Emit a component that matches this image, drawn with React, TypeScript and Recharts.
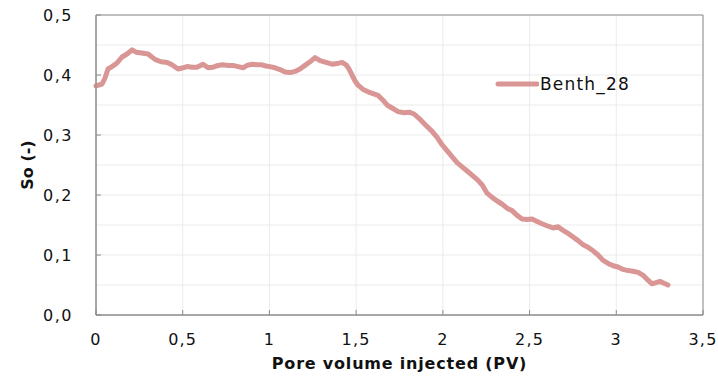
import React from 'react';
import { LineChart, Line, XAxis, YAxis, CartesianGrid, ReferenceArea, Label } from 'recharts';

const seriesName = 'Benth_28';
const pv = [0, 0.035, 0.052, 0.069, 0.092, 0.121, 0.15, 0.179, 0.208, 0.231, 0.254, 0.3, 0.34, 0.375, 0.41, 0.438, 0.473, 0.502, 0.525, 0.554, 0.582, 0.617, 0.646, 0.675, 0.704, 0.732, 0.761, 0.79, 0.819, 0.848, 0.871, 0.9, 0.928, 0.957, 0.98, 1.003, 1.032, 1.061, 1.09, 1.119, 1.148, 1.176, 1.205, 1.234, 1.263, 1.292, 1.326, 1.361, 1.39, 1.419, 1.442, 1.459, 1.476, 1.494, 1.511, 1.54, 1.569, 1.597, 1.626, 1.655, 1.678, 1.707, 1.742, 1.776, 1.805, 1.834, 1.869, 1.903, 1.938, 1.967, 1.995, 2.024, 2.053, 2.082, 2.111, 2.14, 2.168, 2.197, 2.226, 2.255, 2.284, 2.313, 2.341, 2.37, 2.399, 2.428, 2.457, 2.486, 2.514, 2.543, 2.572, 2.607, 2.636, 2.664, 2.693, 2.722, 2.751, 2.78, 2.809, 2.837, 2.866, 2.895, 2.924, 2.953, 2.982, 3.01, 3.039, 3.068, 3.097, 3.126, 3.155, 3.183, 3.206, 3.229, 3.252, 3.275, 3.298];
const so = [0.382, 0.385, 0.395, 0.41, 0.414, 0.42, 0.43, 0.435, 0.442, 0.438, 0.437, 0.435, 0.426, 0.422, 0.421, 0.417, 0.41, 0.412, 0.414, 0.413, 0.413, 0.418, 0.412, 0.413, 0.416, 0.417, 0.416, 0.416, 0.414, 0.412, 0.416, 0.418, 0.417, 0.417, 0.415, 0.414, 0.412, 0.409, 0.405, 0.404, 0.406, 0.41, 0.416, 0.422, 0.429, 0.424, 0.421, 0.418, 0.419, 0.421, 0.417, 0.41, 0.4, 0.39, 0.383, 0.376, 0.372, 0.369, 0.366, 0.358, 0.35, 0.345, 0.339, 0.337, 0.338, 0.335, 0.326, 0.316, 0.306, 0.296, 0.284, 0.274, 0.264, 0.254, 0.247, 0.24, 0.233, 0.226, 0.217, 0.203, 0.196, 0.19, 0.185, 0.178, 0.174, 0.166, 0.16, 0.159, 0.16, 0.156, 0.152, 0.148, 0.145, 0.147, 0.141, 0.136, 0.13, 0.124, 0.117, 0.113, 0.107, 0.1, 0.091, 0.086, 0.082, 0.08, 0.076, 0.074, 0.073, 0.071, 0.066, 0.058, 0.052, 0.054, 0.056, 0.053, 0.05];
const xTicks = [0, 0.5, 1, 1.5, 2, 2.5, 3, 3.5];
const yTicks = [0, 0.1, 0.2, 0.3, 0.4, 0.5];
const yGrid = [0, 0.05, 0.1, 0.15, 0.2, 0.25, 0.3, 0.35, 0.4, 0.45, 0.5];

const data = pv.map((x, i) => ({ x, so: so[i] }));

const FONT = 'DejaVu Sans, Verdana, sans-serif';
const LINE_COLOR = '#d99694';
const AXIS_COLOR = '#8c8c8c';

const fmtX = (v: number) => String(v).replace('.', ',');
const fmtY = (v: number) => v.toFixed(1).replace('.', ',');

const XTick = (props: any) => {
  const { x, y, payload } = props;
  const m = 19;
  return (
    <g>
      <line x1={x} x2={x} y1={y - m} y2={y - m - 5} stroke={AXIS_COLOR} strokeWidth={1} />
      <text x={x} y={y} dy="0.71em" textAnchor="middle" fontFamily={FONT} fontSize={16} letterSpacing={1.2} fill="#111">
        {fmtX(payload.value)}
      </text>
    </g>
  );
};

const YTick = (props: any) => {
  const { x, y, payload } = props;
  const m = 23;
  return (
    <g>
      <line x1={x + m} x2={x + m + 5} y1={y} y2={y} stroke={AXIS_COLOR} strokeWidth={1} />
      <text x={x} y={y} dy="0.355em" textAnchor="end" fontFamily={FONT} fontSize={16} letterSpacing={1.5} fill="#111">
        {fmtY(payload.value)}
      </text>
    </g>
  );
};

export default function App() {
  return (
    <div style={{ position: 'absolute', left: 0, top: 0, width: 718, height: 376, background: '#fff' }}>
      <LineChart width={718} height={376} data={data} margin={{ top: 15, right: 15, bottom: 21, left: 36 }}>
        <CartesianGrid stroke="#ebebeb" horizontalValues={yGrid} verticalValues={xTicks} />
        <XAxis
          dataKey="x"
          type="number"
          domain={[0, 3.5]}
          ticks={xTicks}
          tick={<XTick />}
          tickLine={false}
          tickSize={0}
          tickMargin={19}
          height={40}
          axisLine={{ stroke: AXIS_COLOR }}
          interval={0}
        >
          <Label
            value="Pore volume injected (PV)"
            position="insideBottom"
            offset={-14}
            style={{ fontFamily: FONT, fontSize: 16, fontWeight: 'bold', fill: '#111', letterSpacing: 0.8 }}
          />
        </XAxis>
        <YAxis
          type="number"
          domain={[0, 0.5]}
          ticks={yTicks}
          tick={<YTick />}
          tickLine={false}
          tickSize={0}
          tickMargin={23}
          width={60}
          axisLine={{ stroke: AXIS_COLOR }}
          interval={0}
        >
          <Label
            value="So (-)"
            angle={-90}
            position="insideLeft"
            offset={-9}
            style={{ fontFamily: FONT, fontSize: 16, fontWeight: 'bold', fill: '#111', textAnchor: 'middle' }}
          />
        </YAxis>
        <ReferenceArea x1={0} x2={3.5} y1={0} y2={0.5} fill="none" stroke={AXIS_COLOR} strokeWidth={1} ifOverflow="visible" />
        <Line
          type="linear"
          dataKey="so"
          name={seriesName}
          stroke={LINE_COLOR}
          strokeWidth={5}
          dot={false}
          isAnimationActive={false}
          strokeLinejoin="round"
          strokeLinecap="round"
        />
      </LineChart>
      <div style={{ position: 'absolute', left: 495, top: 73, display: 'flex', alignItems: 'center' }}>
        <svg width={44} height={10}>
          <line x1={3} x2={42} y1={5} y2={5} stroke={LINE_COLOR} strokeWidth={5} strokeLinecap="round" />
        </svg>
        <span style={{ fontFamily: FONT, fontSize: 17, letterSpacing: 1.2, color: '#111', marginLeft: 1, lineHeight: '22px' }}>
          {seriesName}
        </span>
      </div>
    </div>
  );
}
